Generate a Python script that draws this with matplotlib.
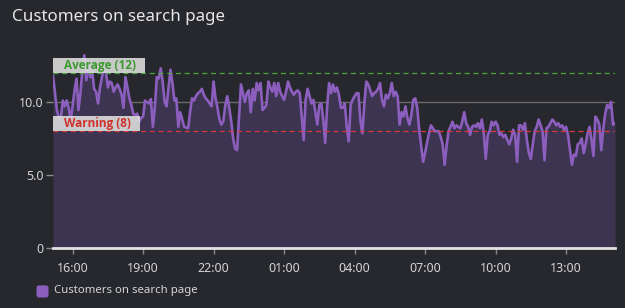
import pandas as pd
import numpy as np
import matplotlib.pyplot as plt
import matplotlib.dates as mdates
from matplotlib.patches import Rectangle, FancyBboxPatch
import matplotlib.transforms as mtransforms

# customers on the search page, one reading every 5 minutes
start_time = "2024-01-01 15:10"
customers = [
    11.8, 10.6, 9.45, 8.9, 8.9, 10.1, 9.7, 10.1, 9.6, 8.8, 9.7,
    10.8, 11.6, 9.45, 10.6, 12.2, 13.2, 11.5, 12.5, 11.7, 12.1,
    10.9, 10.7, 9.9, 11.0, 11.7, 12.4, 12.1, 11.0, 11.4, 11.3,
    10.7, 11.0, 11.2, 10.9, 10.5, 9.6, 11.7, 11.0, 10.25, 9.8, 9.2,
    9.1, 9.2, 8.65, 8.9, 9.0, 10.1, 10.0, 9.9, 10.2, 8.3, 9.6, 11.7,
    11.6, 12.3, 11.4, 10.0, 9.7, 11.0, 12.2, 11.3, 10.1, 10.25,
    8.3, 9.3, 8.8, 8.3, 8.25, 8.2, 9.3, 10.25, 10.1, 10.4, 10.6,
    10.7, 10.9, 10.5, 10.25, 10.1, 9.9,
    9.7, 11.4, 10.25, 9.6, 8.8, 8.45, 8.7, 9.8, 10.4, 9.6,
    8.7, 7.5, 6.8, 6.7, 9.0, 11.2, 10.6, 10.0, 10.6, 10.8,
    9.3, 10.9, 10.1, 11.3, 10.8, 11.3, 9.45, 9.6, 9.8, 11.4,
    11.0, 10.7, 11.3, 10.4, 11.3, 10.7, 10.4, 10.14, 10.7, 11.4,
    11.0, 10.7, 10.5, 10.7, 10.8, 10.6, 9.0, 7.4, 10.14, 10.9,
    10.4, 9.9, 10.14, 9.3, 8.45, 9.8, 9.9, 8.8, 7.2, 9.7,
    11.3, 10.6, 11.2, 10.7, 11.0, 10.5, 9.6, 9.6, 9.9, 8.3,
    7.3, 9.8, 10.14, 10.4, 10.6, 10.6, 8.7, 7.85, 9.9, 11.4,
    11.2, 10.8, 10.4, 10.6, 10.7, 10.9, 11.3, 10.14, 9.7, 10.5,
    10.25, 10.6, 11.3, 10.4, 10.7, 10.4, 8.45, 9.3, 9.0, 9.7,
    8.9, 8.45, 9.1, 10.14, 10.25, 9.6, 8.1, 7.0,
    5.9, 6.5, 7.2, 7.85, 8.4, 8.2, 8.0, 8.0, 8.0, 7.6,
    7.1, 5.7, 7.0, 8.0, 8.3, 8.65, 8.2, 8.4, 8.3, 8.2,
    8.65, 9.3, 8.55, 8.3, 7.75, 8.3, 8.4, 8.3, 8.55, 8.2,
    8.8, 7.85, 6.1, 7.75, 8.0, 8.65, 8.4, 8.65, 8.4, 7.75,
    7.85, 7.6, 7.75, 7.4, 7.1, 7.5, 8.1, 7.75, 5.9, 8.4,
    8.4, 8.1, 8.55, 7.4, 6.5, 6.1, 7.1, 8.0, 8.3, 8.8,
    8.4, 8.0, 6.0, 8.2, 8.3, 8.55, 8.8, 8.65, 8.4, 8.55,
    8.3, 8.4, 8.1, 8.3, 7.75, 6.7, 5.7, 6.4, 6.3, 7.1,
    7.2, 7.5, 6.5, 7.1, 7.85, 8.3, 7.4, 6.3, 9.0, 8.8,
    8.45, 6.7, 8.2, 9.2, 9.8, 9.6, 10.0, 8.45, 8.55,
]
average_value = 12
warning_value = 8
y_ticks = [0, 5, 10]
y_tick_labels = ["0", "5.0", "10.0"]
x_tick_times = ["16:00", "19:00", "22:00", "01:00", "04:00", "07:00", "10:00", "13:00"]

times = pd.date_range(start_time, periods=len(customers), freq="5min")

bg = "#27282d"
text_col = "#d4d4d4"
line_col = "#8c5fbf"
fill_col = "#3c3450"

plt.rcParams['font.family'] = ['Noto Sans', 'DejaVu Sans']

fig = plt.figure(figsize=(6.25, 3.08), dpi=100, facecolor=bg)
ax = fig.add_axes([0.0848, 0.1948, 0.8992, 0.6305], facecolor=bg)

ax.fill_between(times, customers, 0, color=fill_col, lw=0, zorder=2)
ax.plot(times, customers, color=line_col, lw=1.9, zorder=3)

ax.axhline(average_value, color="#45a83a", lw=0.9, ls=(0, (4, 3)), zorder=4)
ax.axhline(warning_value, color="#d83a3a", lw=0.9, ls=(0, (4, 3)), zorder=4)

# threshold labels
blend = mtransforms.blended_transform_factory(ax.transAxes, ax.transData)
ax.add_patch(Rectangle((0, average_value), 0.164, 1.03, transform=blend,
                       facecolor="#d8d8d8", edgecolor="none", alpha=0.92, zorder=5))
ax.text(0.084, average_value + 0.5, "Average (12)", transform=blend, ha="center",
        va="center", color="#3a9a2e", fontsize=8.5, fontweight="bold",
        family=["Open Sans", "DejaVu Sans"], zorder=6)
ax.add_patch(Rectangle((0, warning_value), 0.155, 1.03, transform=blend,
                       facecolor="#d8d8d8", edgecolor="none", alpha=0.92, zorder=5))
ax.text(0.079, warning_value + 0.5, "Warning (8)", transform=blend, ha="center",
        va="center", color="#d0302c", fontsize=8.5, fontweight="bold",
        family=["Open Sans", "DejaVu Sans"], zorder=6)

ax.set_ylim(0, 13.3)
ax.set_xlim(times[0], times[-1])
ax.set_yticks(y_ticks)
ax.set_yticklabels(y_tick_labels)
ax.yaxis.grid(True, color="#6a6a6a", lw=1, zorder=0)
ax.set_axisbelow(True)

tick_locs = [t for t in times if t.minute == 0 and t.strftime("%H:%M") in x_tick_times]
ax.set_xticks(tick_locs)
ax.xaxis.set_major_formatter(mdates.DateFormatter("%H:%M"))

for side in ["top", "right", "left"]:
    ax.spines[side].set_visible(False)
ax.spines["bottom"].set_color("#e2e2e2")
ax.spines["bottom"].set_linewidth(2)
ax.spines["bottom"].set_zorder(7)

ax.tick_params(axis="both", colors="#8a8a8a", labelcolor=text_col, labelsize=9, width=1)
ax.tick_params(axis="y", length=5, pad=2)
ax.tick_params(axis="x", length=4, pad=6)

fig.text(0.019, 0.945, "Customers on search page", color="#e6e6e6", fontsize=12.2,
         ha="left", va="center")

# legend: rounded swatch + label
fig.patches.append(FancyBboxPatch((0.0624, 0.0422), 0.0192 - 0.008, 0.039 - 0.016,
                                  boxstyle="round,pad=0.004,rounding_size=0.004",
                                  transform=fig.transFigure, facecolor=line_col,
                                  edgecolor="none", figure=fig,
                                  mutation_aspect=625 / 308))
fig.text(0.0865, 0.058, "Customers on search page", color=text_col, fontsize=8.2,
         ha="left", va="center")

fig.savefig("out.png", dpi=100, facecolor=bg)
